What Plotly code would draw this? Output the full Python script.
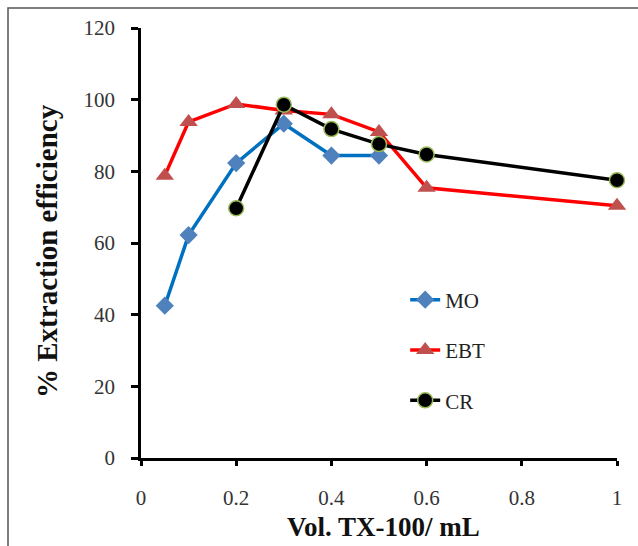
import plotly.graph_objects as go

x_mo = [0.05, 0.1, 0.2, 0.3, 0.4, 0.5]
y_mo = [42.5, 62.2, 82.3, 93.3, 84.4, 84.4]

x_ebt = [0.05, 0.1, 0.2, 0.3, 0.4, 0.5, 0.6, 1.0]
y_ebt = [78.8, 93.8, 98.8, 97.0, 95.9, 91.0, 75.4, 70.4]

x_cr = [0.2, 0.3, 0.4, 0.5, 0.6, 1.0]
y_cr = [69.7, 98.6, 91.8, 87.6, 84.7, 77.5]

x_ticks = [0, 0.2, 0.4, 0.6, 0.8, 1]
x_tick_text = ["0", "0.2", "0.4", "0.6", "0.8", "1"]
y_ticks = [0, 20, 40, 60, 80, 100, 120]

x_title = "<b>Vol. TX-100/ mL</b>"
y_title = "<b>% Extraction efficiency</b>"

serif = "Liberation Serif, Times New Roman, serif"

fig = go.Figure()
fig.add_trace(go.Scatter(
    x=x_mo, y=y_mo, name="MO", mode="lines+markers", legendgroup="a",
    line=dict(color="#0070c0", width=3.5),
    marker=dict(symbol="diamond", size=14, color="#4f81bd"),
    cliponaxis=False))
fig.add_trace(go.Scatter(
    x=x_ebt, y=y_ebt, name="EBT", mode="lines+markers", legendgroup="b",
    line=dict(color="#ff0000", width=3.5),
    marker=dict(symbol="triangle-up", size=16, color="#c0504d"),
    cliponaxis=False))
fig.add_trace(go.Scatter(
    x=x_cr, y=y_cr, name="CR", mode="lines+markers", legendgroup="c",
    line=dict(color="#000000", width=3.5),
    marker=dict(symbol="circle", size=15, color="#000000",
                line=dict(color="#9bbb59", width=1.5)),
    cliponaxis=False))

fig.update_layout(
    width=638, height=546,
    margin=dict(l=141, r=21, t=28, b=88),
    paper_bgcolor="white", plot_bgcolor="white",
    font=dict(family=serif, color="#222"),
    showlegend=True,
    legend=dict(x=0.555, y=0.415, xanchor="left", yanchor="top",
                font=dict(family=serif, size=21, color="#222"),
                tracegroupgap=20, bgcolor="rgba(0,0,0,0)"),
    xaxis=dict(range=[0, 1], tickvals=x_ticks, ticktext=x_tick_text,
               showgrid=False, zeroline=False, showline=True,
               linecolor="black", linewidth=2.5, ticks="outside",
               ticklen=5, tickwidth=2.5, tickcolor="black",
               ticklabelstandoff=14,
               tickfont=dict(family=serif, size=21, color="#333")),
    yaxis=dict(range=[0, 120], tickvals=y_ticks,
               showgrid=False, zeroline=False, showline=True,
               linecolor="black", linewidth=2.5, ticks="outside",
               ticklen=7, tickwidth=2.5, tickcolor="black",
               ticklabelstandoff=12,
               tickfont=dict(family=serif, size=21, color="#333")),
    annotations=[
        dict(text=x_title, xref="paper", yref="paper", x=0.51, y=-0.161,
             xanchor="center", yanchor="middle", showarrow=False,
             font=dict(family=serif, size=27, color="#111")),
        dict(text=y_title, xref="paper", yref="paper", x=-0.197, y=0.482,
             xanchor="center", yanchor="middle", showarrow=False,
             textangle=-90, font=dict(family=serif, size=29, color="#111")),
    ],
    shapes=[dict(type="rect", xref="paper", yref="paper",
                 x0=-0.2794, x1=1.08, y0=-0.25, y1=1.0465,
                 line=dict(color="#555", width=1.5), layer="below")],
)

fig.write_html("out.html")
